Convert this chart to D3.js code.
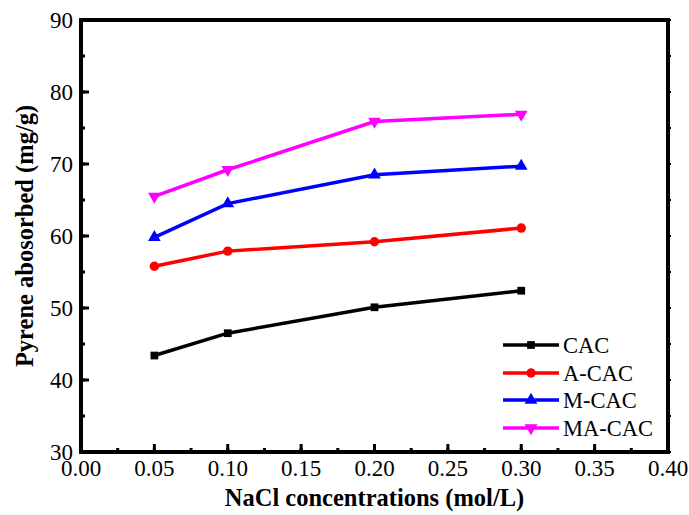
<!DOCTYPE html>
<html>
<head>
<meta charset="utf-8">
<script src="https://cdn.jsdelivr.net/npm/d3@7"></script>
<style>
body { margin: 0; background: #fff; }
text { font-family: "Liberation Serif", "Times New Roman", serif; }
</style>
</head>
<body>
<div id="chart"></div>
<script>
var conc = [0.05, 0.10, 0.20, 0.30];
var cac = [43.4, 46.5, 50.1, 52.4];
var aCac = [55.8, 57.9, 59.2, 61.1];
var mCac = [59.8, 64.5, 68.5, 69.7];
var maCac = [65.5, 69.2, 75.9, 76.9];
var seriesNames = ["CAC", "A-CAC", "M-CAC", "MA-CAC"];
var seriesColors = ["#000000", "#ff0000", "#0000ff", "#ff00ff"];
var seriesShapes = [d3.symbolSquare, d3.symbolCircle, d3.symbolTriangle, "down"];
var xTicks = [0, 0.05, 0.10, 0.15, 0.20, 0.25, 0.30, 0.35, 0.40];
var yTicks = [30, 40, 50, 60, 70, 80, 90];

var series = [cac, aCac, mCac, maCac];

var pLeft = 81, pRight = 668, pTop = 20, pBottom = 452;

var svg = d3.select("#chart").append("svg")
  .attr("width", 689)
  .attr("height", 515);

var x = d3.scaleLinear().domain([0, 0.4]).range([pLeft, pRight]);
var y = d3.scaleLinear().domain([30, 90]).range([pBottom, pTop]);

// minor ticks
var xMinor = d3.range(0, 0.401, 0.025);
var yMinor = d3.range(30, 90.1, 5);

svg.selectAll(".xminor").data(xMinor).enter().append("line")
  .attr("x1", function(d) { return x(d); })
  .attr("x2", function(d) { return x(d); })
  .attr("y1", pBottom)
  .attr("y2", pBottom - 4)
  .attr("stroke", "black").attr("stroke-width", 3);
svg.selectAll(".xmajor").data(xTicks).enter().append("line")
  .attr("x1", function(d) { return x(d); })
  .attr("x2", function(d) { return x(d); })
  .attr("y1", pBottom)
  .attr("y2", pBottom - 8)
  .attr("stroke", "black").attr("stroke-width", 3);
svg.selectAll(".yminor").data(yMinor).enter().append("line")
  .attr("x1", pLeft)
  .attr("x2", pLeft + 4)
  .attr("y1", function(d) { return y(d); })
  .attr("y2", function(d) { return y(d); })
  .attr("stroke", "black").attr("stroke-width", 3);
svg.selectAll(".ymajor").data(yTicks).enter().append("line")
  .attr("x1", pLeft)
  .attr("x2", pLeft + 8)
  .attr("y1", function(d) { return y(d); })
  .attr("y2", function(d) { return y(d); })
  .attr("stroke", "black").attr("stroke-width", 3);
// right side small notches
svg.selectAll(".rminor").data(yMinor).enter().append("line")
  .attr("x1", pRight)
  .attr("x2", pRight + 3)
  .attr("y1", function(d) { return y(d); })
  .attr("y2", function(d) { return y(d); })
  .attr("stroke", "black").attr("stroke-width", 2);

// frame
svg.append("rect")
  .attr("x", pLeft).attr("y", pTop)
  .attr("width", pRight - pLeft).attr("height", pBottom - pTop)
  .attr("fill", "none").attr("stroke", "black").attr("stroke-width", 4);

// tick labels
svg.selectAll(".xlab").data(xTicks).enter().append("text")
  .attr("x", function(d) { return x(d); })
  .attr("y", 476)
  .attr("text-anchor", "middle")
  .attr("font-size", 23)
  .text(function(d) { return d.toFixed(2); });
svg.selectAll(".ylab").data(yTicks).enter().append("text")
  .attr("x", 73)
  .attr("y", function(d) { return y(d) + 8; })
  .attr("text-anchor", "end")
  .attr("font-size", 23)
  .text(function(d) { return d; });

// titles
svg.append("text")
  .attr("x", (pLeft + pRight) / 2)
  .attr("y", 506)
  .attr("text-anchor", "middle")
  .attr("font-size", 24.5)
  .attr("font-weight", "bold")
  .text("NaCl concentrations (mol/L)");
svg.append("text")
  .attr("transform", "translate(33," + ((pTop + pBottom) / 2) + ") rotate(-90)")
  .attr("text-anchor", "middle")
  .attr("font-size", 24.5)
  .attr("font-weight", "bold")
  .text("Pyrene abosorbed (mg/g)");

var line = d3.line()
  .x(function(d, i) { return x(conc[i]); })
  .y(function(d) { return y(d); });

function marker(sel, shape, color) {
  if (shape === "down") {
    sel.attr("d", d3.symbol().type(d3.symbolTriangle).size(70))
      .attr("fill", color);
    return "rotate(180)";
  }
  var size = shape === d3.symbolSquare ? 60 : 70;
  sel.attr("d", d3.symbol().type(shape).size(size)).attr("fill", color);
  return "";
}

series.forEach(function(vals, s) {
  svg.append("path")
    .datum(vals)
    .attr("d", line)
    .attr("fill", "none")
    .attr("stroke", seriesColors[s])
    .attr("stroke-width", 3.5);
  svg.selectAll(".m" + s).data(vals).enter().append("path")
    .each(function(d, i) {
      var rot = marker(d3.select(this), seriesShapes[s], seriesColors[s]);
      d3.select(this).attr("transform", "translate(" + x(conc[i]) + "," + y(d) + ") " + rot);
    });
});

// legend
var legY = [345, 373, 400, 428];
seriesNames.forEach(function(name, s) {
  svg.append("line")
    .attr("x1", 503).attr("x2", 559)
    .attr("y1", legY[s]).attr("y2", legY[s])
    .attr("stroke", seriesColors[s]).attr("stroke-width", 3.5);
  var m = svg.append("path");
  var rot = marker(m, seriesShapes[s], seriesColors[s]);
  m.attr("transform", "translate(531," + legY[s] + ") " + rot);
  svg.append("text")
    .attr("x", 563)
    .attr("y", legY[s] + 8)
    .attr("font-size", 22.5)
    .text(name);
});
</script>
</body>
</html>
